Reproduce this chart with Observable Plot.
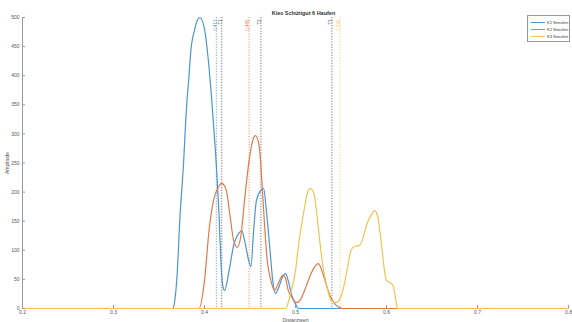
<!DOCTYPE html>
<html>
<head>
<meta charset="utf-8">
<script src="https://cdn.jsdelivr.net/npm/d3@7"></script>
<script src="https://cdn.jsdelivr.net/npm/@observablehq/plot@0.6"></script>
<style>
  html, body { margin: 0; padding: 0; background: #fff; }
  #wrap { position: relative; width: 572px; height: 322px; font-family: "Liberation Sans", Arial, sans-serif; }
  #legend { position: absolute; left: 527px; top: 15px; width: 43px; height: 27px; border: 0.7px solid #999; background: #fff; font-size: 4px; color: #333; box-sizing: border-box; padding-top: 3px; white-space: nowrap; }
  #legend .row { display: flex; align-items: center; height: 7px; }
  #legend .sw { width: 14px; height: 0; border-top: 1.2px solid; margin-left: 3px; margin-right: 2px; flex: none; }
</style>
</head>
<body>
<div id="wrap"><div id="legend"></div></div>
<script>
// ---- data ----
const seriesNames = ["K1 Streufen", "K2 Streufen", "K3 Streufen"];
const seriesColors = ["#4a95d3", "#e27a48", "#f1c452"];

const k1X = [0.2, 0.365, 0.367, 0.370, 0.373, 0.377, 0.380, 0.383, 0.385, 0.389, 0.392, 0.395, 0.400, 0.404, 0.408, 0.412, 0.414, 0.416, 0.418, 0.420, 0.422, 0.427, 0.432, 0.438, 0.441, 0.444, 0.449, 0.451, 0.454, 0.457, 0.462, 0.465, 0.468, 0.472, 0.475, 0.478, 0.481, 0.486, 0.489, 0.492, 0.496, 0.500, 0.503, 0.8];
const k1Y = [0, 0, 10, 60, 156, 250, 340, 400, 443, 478, 495, 500, 480, 430, 357, 271, 220, 160, 82, 40, 31, 65, 108, 130, 134, 117, 80, 72, 134, 185, 203, 206, 168, 100, 48, 26, 34, 55, 60, 48, 22, 8, 0, 0];

const k2X = [0.2, 0.394, 0.400, 0.405, 0.410, 0.415, 0.419, 0.424, 0.428, 0.432, 0.436, 0.440, 0.444, 0.449, 0.453, 0.456, 0.460, 0.463, 0.466, 0.469, 0.473, 0.477, 0.481, 0.486, 0.489, 0.492, 0.497, 0.501, 0.505, 0.510, 0.514, 0.520, 0.525, 0.529, 0.534, 0.538, 0.542, 0.547, 0.552, 0.8];
const k2Y = [0, 0, 48, 134, 186, 208, 215, 203, 160, 117, 105, 125, 186, 254, 289, 297, 280, 220, 143, 82, 48, 31, 43, 57, 52, 31, 17, 10, 14, 31, 48, 69, 77, 65, 40, 22, 10, 3, 0, 0];

const k3X = [0.2, 0.489, 0.494, 0.500, 0.504, 0.509, 0.513, 0.516, 0.520, 0.523, 0.526, 0.530, 0.535, 0.539, 0.544, 0.548, 0.552, 0.557, 0.561, 0.565, 0.570, 0.574, 0.578, 0.583, 0.587, 0.590, 0.594, 0.597, 0.600, 0.603, 0.607, 0.610, 0.612, 0.8];
const k3Y = [0, 0, 22, 65, 117, 165, 198, 206, 199, 168, 125, 74, 34, 14, 10, 14, 31, 69, 100, 107, 108, 120, 143, 160, 168, 160, 117, 74, 48, 45, 40, 17, 0, 0];

const markerX = [0.413, 0.419, 0.449, 0.462, 0.540, 0.549];
const markerLabels = ["0.413", "T1", "0.449", "T2", "T3", "0.549"];
const markerColors = ["#6a9cc8", "#666666", "#e0906a", "#666666", "#666666", "#efd27a"];

const xTicks = [0.2, 0.3, 0.4, 0.5, 0.6, 0.7, 0.8];
const yTicks = [0, 50, 100, 150, 200, 250, 300, 350, 400, 450, 500];

const titleText = "Kies Schüttgut 6 Haufen";
const xLabel = "Distanzwert";
const yLabel = "Amplitude";

// ---- build ----
const rows = [];
[[k1X, k1Y], [k2X, k2Y], [k3X, k3Y]].forEach(([xs, ys], i) => {
  xs.forEach((x, j) => rows.push({s: seriesNames[i], x, y: ys[j]}));
});
const markers = markerX.map((x, i) => ({x, label: markerLabels[i], c: markerColors[i]}));

const chart = Plot.plot({
  width: 572, height: 322,
  marginTop: 17, marginBottom: 14, marginLeft: 22, marginRight: 4,
  style: {fontFamily: "Liberation Sans, Arial, sans-serif", fontSize: "5px", color: "#444", background: "#fff"},
  x: {domain: [0.2, 0.8]},
  y: {domain: [0, 500]},
  color: {domain: seriesNames, range: seriesColors},
  marks: [
    Plot.ruleX(markers, {x: "x", stroke: "c", strokeWidth: 0.9, strokeDasharray: "1.2,1.5"}),
    Plot.text(markers, {x: "x", text: "label", fill: "c", frameAnchor: "top", rotate: -90, textAnchor: "end", dx: -3, dy: 2, fontSize: 4.5}),
    Plot.line(rows, {x: "x", y: "y", z: "s", stroke: "s", strokeWidth: 1.2, curve: "monotone-x"}),
    Plot.axisX({ticks: xTicks, tickFormat: d3.format(".1f"), tickSize: -3, tickPadding: 5, stroke: "#999", label: xLabel, labelAnchor: "center", labelArrow: "none", labelOffset: 13, fill: "#555"}),
    Plot.axisY({ticks: yTicks, tickSize: -3, tickPadding: 6, stroke: "#999", label: yLabel, labelAnchor: "center", labelArrow: "none", labelOffset: 17, fill: "#555"}),
    Plot.ruleX([0.2], {stroke: "#999", strokeWidth: 1}),
    Plot.text([titleText], {frameAnchor: "top", dy: -6, dx: 8, fontWeight: "bold", fontSize: 5.5, fill: "#333"})
  ]
});
document.getElementById("wrap").prepend(chart);

const legend = document.getElementById("legend");
seriesNames.forEach((n, i) => {
  const r = document.createElement("div");
  r.className = "row";
  const sw = document.createElement("div");
  sw.className = "sw";
  sw.style.borderColor = seriesColors[i];
  const t = document.createElement("span");
  t.textContent = n;
  r.append(sw, t);
  legend.append(r);
});
</script>
</body>
</html>
